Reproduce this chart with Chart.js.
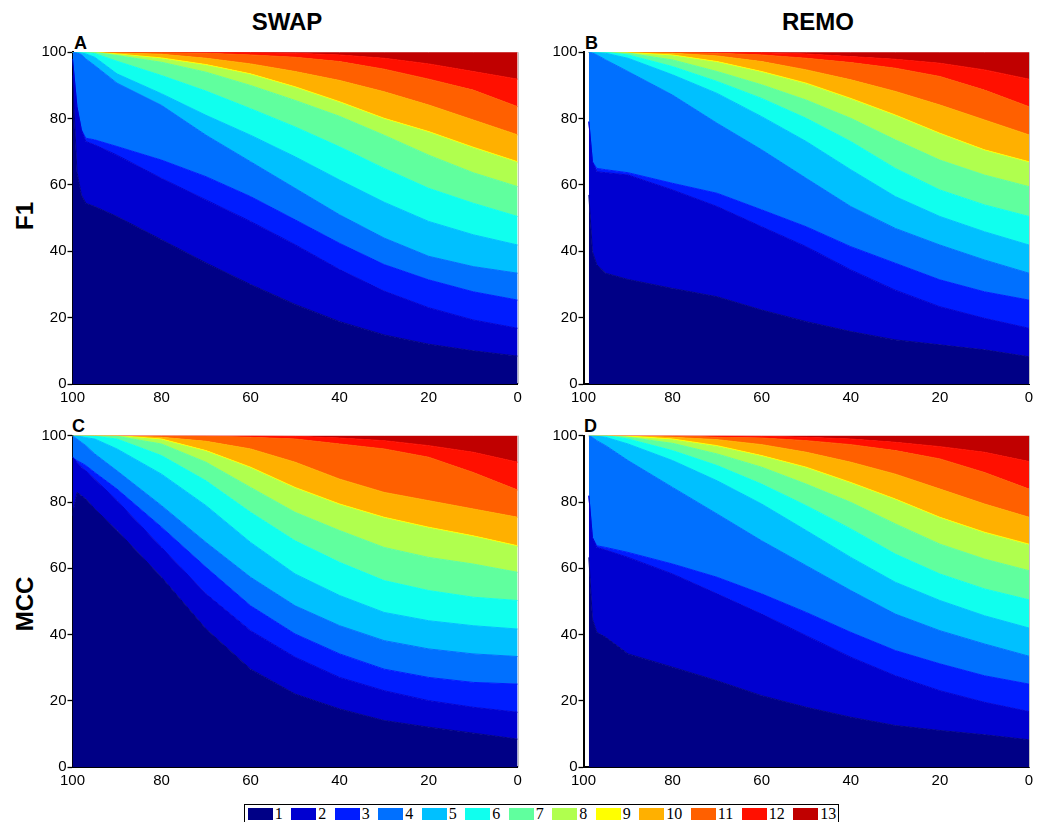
<!DOCTYPE html>
<html><head><meta charset="utf-8">
<script src="https://cdn.jsdelivr.net/npm/chart.js@4.4.1/dist/chart.umd.min.js"></script>
<style>
body{margin:0;background:#fff;width:1042px;height:822px;overflow:hidden;position:relative;font-family:"Liberation Sans",Arial,sans-serif;color:#000;}
canvas{position:absolute;}
.t{position:absolute;font-weight:bold;font-size:24px;line-height:24px;white-space:nowrap;}
.p{position:absolute;font-weight:bold;font-size:18px;line-height:18px;}
#legend{position:absolute;left:244px;top:804px;width:595px;height:40px;border:1px solid #000;box-sizing:border-box;display:flex;align-items:flex-start;padding:3px 0 0 2.8px;font-family:"Liberation Serif","Times New Roman",serif;font-size:16px;}
.item{display:flex;align-items:center;margin-right:8.5px;}
.sw{width:25px;height:12px;margin-right:2px;}
.lb{line-height:12px;}
</style></head>
<body>
<div class="t" style="left:287px;top:10px;transform:translateX(-50%)">SWAP</div>
<div class="t" style="left:818px;top:10px;transform:translateX(-50%)">REMO</div>
<div class="t" style="left:25px;top:216px;transform:translate(-50%,-50%) rotate(-90deg)">F1</div>
<div class="t" style="left:25px;top:604px;transform:translate(-50%,-50%) rotate(-90deg)">MCC</div>
<div class="p" style="left:74px;top:34px">A</div>
<div class="p" style="left:585px;top:34px">B</div>
<div class="p" style="left:72px;top:417px">C</div>
<div class="p" style="left:584px;top:417px">D</div>
<canvas id="cA" width="530" height="380" style="left:0;top:30px"></canvas>
<canvas id="cB" width="530" height="380" style="left:512px;top:30px"></canvas>
<canvas id="cC" width="530" height="380" style="left:0;top:414px"></canvas>
<canvas id="cD" width="530" height="380" style="left:512px;top:414px"></canvas>
<div id="legend"></div>
<script>
// ---- data ----
const categories = ['1','2','3','4','5','6','7','8','9','10','11','12','13'];
const palette = ['rgb(0,0,134)','rgb(0,0,208)','rgb(0,28,255)','rgb(0,112,255)','rgb(0,192,255)','rgb(16,255,238)','rgb(96,255,158)','rgb(176,255,78)','rgb(255,255,0)','rgb(255,176,0)','rgb(255,96,0)','rgb(255,16,0)','rgb(192,0,0)'];
const xTicks = [100, 80, 60, 40, 20, 0];
const yTicks = [0, 20, 40, 60, 80, 100];

// x positions (percent) where the cumulative boundaries were read
const xSwap = [100, 99, 98, 97, 95, 90, 80, 70, 60, 50, 40, 30, 20, 10, 0];
const xRemo = [98.8, 98, 97, 95, 90, 80, 70, 60, 50, 40, 30, 20, 10, 0];

// cumulative upper boundary of each category (1..13)
const swapF1 = [
  [93, 64, 57, 54.5, 53.5, 50.5, 43.5, 36.5, 30, 24, 18.8, 14.8, 12, 10, 8.4],
  [98, 83.6, 76.6, 73.1, 72.1, 69, 62, 55.5, 49, 42, 34.5, 28, 23, 19.3, 16.8],
  [98, 83.6, 76.6, 74.1, 73.6, 71.6, 67.5, 62.5, 56.5, 49.5, 42.4, 36, 31.4, 27.8, 25.3],
  [100, 99.8, 99.3, 98, 96, 90.7, 84, 75, 67, 59, 51, 44, 38.5, 35.4, 33.4],
  [100, 100, 99.8, 99.5, 98.5, 93.5, 87.5, 81, 75, 68.5, 61.5, 54.8, 49, 45, 41.9],
  [100, 100, 100, 99.9, 99.6, 97.3, 93, 88.3, 83, 77.5, 71.5, 65, 59, 54.5, 50.5],
  [100, 100, 100, 100, 99.9, 99, 97, 94, 90, 85.5, 80.7, 75, 69, 63.7, 59.5],
  [100, 100, 100, 100, 100, 99.3, 98, 96, 93.2, 89.3, 84.8, 79.8, 75.8, 71.1, 66.7],
  [100, 100, 100, 100, 100, 99.5, 98.3, 96.3, 93.5, 89.6, 85.1, 80.1, 76.1, 71.4, 67],
  [100, 100, 100, 100, 100, 99.8, 99.4, 98.2, 96.5, 94.2, 91.5, 88.1, 84.1, 79.6, 75.1],
  [100, 100, 100, 100, 100, 100, 99.9, 99.7, 99.2, 98.5, 97.2, 94.9, 91.9, 88.6, 83.6],
  [100, 100, 100, 100, 100, 100, 100, 100, 99.9, 99.7, 99.2, 98.2, 96.5, 94.2, 91.9],
  [100, 100, 100, 100, 100, 100, 100, 100, 100, 100, 100, 100, 100, 100, 100]
];
const remoF1 = [
  [57, 39.9, 35.9, 33.4, 31.5, 28.8, 26.3, 22.3, 18.8, 15.8, 13.3, 11.8, 10.3, 8.2],
  [79.1, 67, 64, 63.7, 63, 58.5, 53.5, 47.4, 41.4, 34.4, 28.3, 23.3, 19.8, 16.8],
  [79.1, 67, 65, 64.6, 63.7, 60.5, 57.5, 52.5, 47.4, 41.4, 36.4, 31.4, 27.8, 25.3],
  [100, 99.8, 99.2, 97.7, 94.2, 87.1, 78.6, 70.6, 62, 53.5, 46.9, 41.9, 37.4, 33.4],
  [100, 100, 99.9, 99.7, 98.2, 93.2, 87.6, 80.6, 73.1, 64.6, 56.5, 50.5, 45.9, 41.9],
  [100, 100, 100, 100, 99.2, 95.7, 91.2, 86.1, 80.1, 73.1, 65, 58.5, 54, 50.5],
  [100, 100, 100, 100, 99.7, 97.7, 94.2, 90.2, 85.6, 80.1, 73.6, 67.5, 63, 59.5],
  [100, 100, 100, 100, 99.7, 98.9, 96.9, 93.9, 90.4, 85.8, 80.8, 75.3, 70.3, 66.7],
  [100, 100, 100, 100, 99.9, 99.2, 97.2, 94.2, 90.7, 86.1, 81.1, 75.6, 70.6, 67],
  [100, 100, 100, 100, 100, 99.7, 98.9, 97.2, 94.7, 91.7, 88.2, 84.1, 79.6, 75.1],
  [100, 100, 100, 100, 100, 100, 99.7, 99.2, 98.2, 96.9, 95.2, 92.7, 88.6, 83.6],
  [100, 100, 100, 100, 100, 100, 100, 99.9, 99.5, 98.7, 97.9, 96.7, 94.7, 91.9],
  [100, 100, 100, 100, 100, 100, 100, 100, 100, 100, 100, 100, 100, 100]
];
const swapMCC = [
  [75.9, 82.9, 81.9, 80.9, 77.9, 71.4, 57.3, 41.7, 29.6, 22.1, 17.6, 14.1, 12.1, 10.3, 8.5],
  [93.5, 92, 90.5, 89.4, 86.9, 80.4, 66.3, 52.3, 41.2, 33.2, 27.1, 23.1, 20.1, 18.1, 16.6],
  [93.5, 92.5, 91.8, 91, 88.9, 83.9, 72.4, 60.3, 48.7, 40.2, 34.2, 29.6, 27.1, 25.6, 25.1],
  [100, 99, 98, 97, 94.5, 89.4, 78.9, 67.8, 57.3, 48.7, 42.7, 38.2, 35.7, 34.2, 33.4],
  [100, 100, 99.7, 99.4, 99, 96, 88.4, 78.9, 67.8, 58.3, 51.8, 46.7, 44.2, 42.7, 41.7],
  [100, 100, 100, 100, 99.8, 99, 94, 86.4, 76.9, 68.3, 61.8, 56.3, 53.3, 51.3, 50.3],
  [100, 100, 100, 100, 100, 99.8, 97.5, 92, 84.4, 76.9, 71.4, 66.3, 63.3, 61.3, 58.8],
  [100, 100, 100, 100, 100, 99.9, 98.7, 95.2, 90.2, 84.1, 79.1, 75.1, 72.1, 69.5, 66.5],
  [100, 100, 100, 100, 100, 100, 99, 95.5, 90.5, 84.4, 79.4, 75.4, 72.4, 69.8, 66.8],
  [100, 100, 100, 100, 100, 100, 99.5, 98.3, 96, 92, 86.9, 82.9, 80.4, 77.9, 75.4],
  [100, 100, 100, 100, 100, 100, 100, 99.9, 99.5, 99, 97.5, 96, 93.5, 88.9, 83.6],
  [100, 100, 100, 100, 100, 100, 100, 100, 100, 99.8, 99.3, 98.5, 97, 95, 92],
  [100, 100, 100, 100, 100, 100, 100, 100, 100, 100, 100, 100, 100, 100, 100]
];
const remoMCC = [
  [63.3, 44.7, 40.7, 39.2, 34.2, 30.2, 26.1, 21.6, 18.1, 15.1, 12.6, 11.1, 9.8, 8.3],
  [81.9, 69.3, 66.3, 65.5, 63.3, 58.3, 52.3, 46.2, 39.7, 33.2, 27.6, 23.1, 19.6, 16.8],
  [81.9, 69.3, 66.8, 66.3, 64.8, 61.3, 57.3, 52.3, 46.7, 40.7, 35.2, 31.2, 27.6, 25.1],
  [100, 99.5, 98.5, 97, 92.5, 84.4, 76.4, 68.3, 60.8, 53.3, 46.2, 41.2, 37.2, 33.5],
  [100, 100, 99.8, 99.5, 97.5, 92.5, 86.4, 79.4, 71.4, 63.3, 55.8, 50.3, 45.7, 42],
  [100, 100, 100, 100, 99, 95.5, 91, 85.4, 78.9, 71.9, 64.3, 58.3, 53.8, 50.5],
  [100, 100, 100, 100, 99.5, 97.7, 94.5, 90.5, 85.4, 79.9, 73.4, 67.3, 62.8, 59.3],
  [100, 100, 100, 100, 99.6, 98.7, 96.7, 93.7, 90.2, 85.6, 80.6, 75.1, 70.6, 67],
  [100, 100, 100, 100, 99.9, 99, 97, 94, 90.5, 85.9, 80.9, 75.4, 70.9, 67.3],
  [100, 100, 100, 100, 100, 99.5, 98.8, 97.3, 95, 92, 88.4, 83.9, 79.4, 75.4],
  [100, 100, 100, 100, 100, 100, 99.5, 99.3, 98.5, 97.3, 95.5, 93, 88.9, 83.9],
  [100, 100, 100, 100, 100, 100, 100, 99.8, 99.5, 99, 98, 96.7, 95, 92.2],
  [100, 100, 100, 100, 100, 100, 100, 100, 100, 100, 100, 100, 100, 100]
];

// ---- drawing ----
const tickFont = {family: '"Liberation Sans", Arial, sans-serif', size: 15};
const frame = {
  id: 'frame',
  afterDatasetsDraw(chart) {
    const {ctx, chartArea: a} = chart;
    ctx.save();
    ctx.strokeStyle = '#c4c4c4';
    ctx.lineWidth = 1;
    ctx.beginPath();
    ctx.moveTo(Math.round(a.right) + 0.5, a.top);
    ctx.lineTo(Math.round(a.right) + 0.5, a.bottom);
    ctx.stroke();
    ctx.restore();
  }
};

function makeChart(id, xs, rows, geo) {
  const datasets = rows.map((row, k) => ({
    label: categories[k],
    data: xs.map((x, i) => ({x: x, y: row[i]})),
    fill: k === 0 ? 'origin' : '-1',
    backgroundColor: palette[k],
    borderColor: palette[k],
    borderWidth: 1,
    pointRadius: 0,
    tension: 0
  }));
  return new Chart(document.getElementById(id), {
    type: 'line',
    data: {datasets},
    plugins: [frame],
    options: {
      responsive: false,
      animation: false,
      events: [],
      layout: {padding: {left: 0, top: geo.top, right: geo.right, bottom: 0}},
      plugins: {legend: {display: false}, tooltip: {enabled: false}},
      scales: {
        x: {
          type: 'linear', min: 0, max: 100, reverse: true, z: 1,
          afterBuildTicks: s => { s.ticks = xTicks.map(v => ({value: v})); },
          ticks: {font: tickFont, color: '#000', padding: 5, maxRotation: 0, autoSkip: false},
          grid: {display: true, drawOnChartArea: false, drawTicks: false},
          border: {display: true, color: '#000', width: 2},
          afterFit: s => { s.height = geo.xh; }
        },
        y: {
          type: 'linear', min: 0, max: 100, z: 1,
          afterBuildTicks: s => { s.ticks = yTicks.map(v => ({value: v})); },
          ticks: {font: tickFont, color: '#000', padding: 1},
          grid: {display: true, drawOnChartArea: false, drawTicks: true, tickLength: 5, tickColor: '#000', tickWidth: 1.3},
          border: {display: true, color: '#000', width: 2},
          afterFit: s => { s.width = geo.yw; }
        }
      }
    }
  });
}

makeChart('cA', xSwap, swapF1, {top: 22.3, right: 12.3, xh: 26, yw: 72.5});
makeChart('cB', xRemo, remoF1, {top: 22.3, right: 13, xh: 26, yw: 71.5});
makeChart('cC', xSwap, swapMCC, {top: 21.7, right: 12.3, xh: 26.7, yw: 72.5});
makeChart('cD', xRemo, remoMCC, {top: 21.7, right: 13, xh: 26.7, yw: 71.5});

// legend
const lg = document.getElementById('legend');
categories.forEach((c, k) => {
  const it = document.createElement('div'); it.className = 'item';
  const sw = document.createElement('div'); sw.className = 'sw'; sw.style.background = palette[k];
  const lb = document.createElement('span'); lb.className = 'lb'; lb.textContent = c;
  it.appendChild(sw); it.appendChild(lb); lg.appendChild(it);
});
</script>
</body></html>
